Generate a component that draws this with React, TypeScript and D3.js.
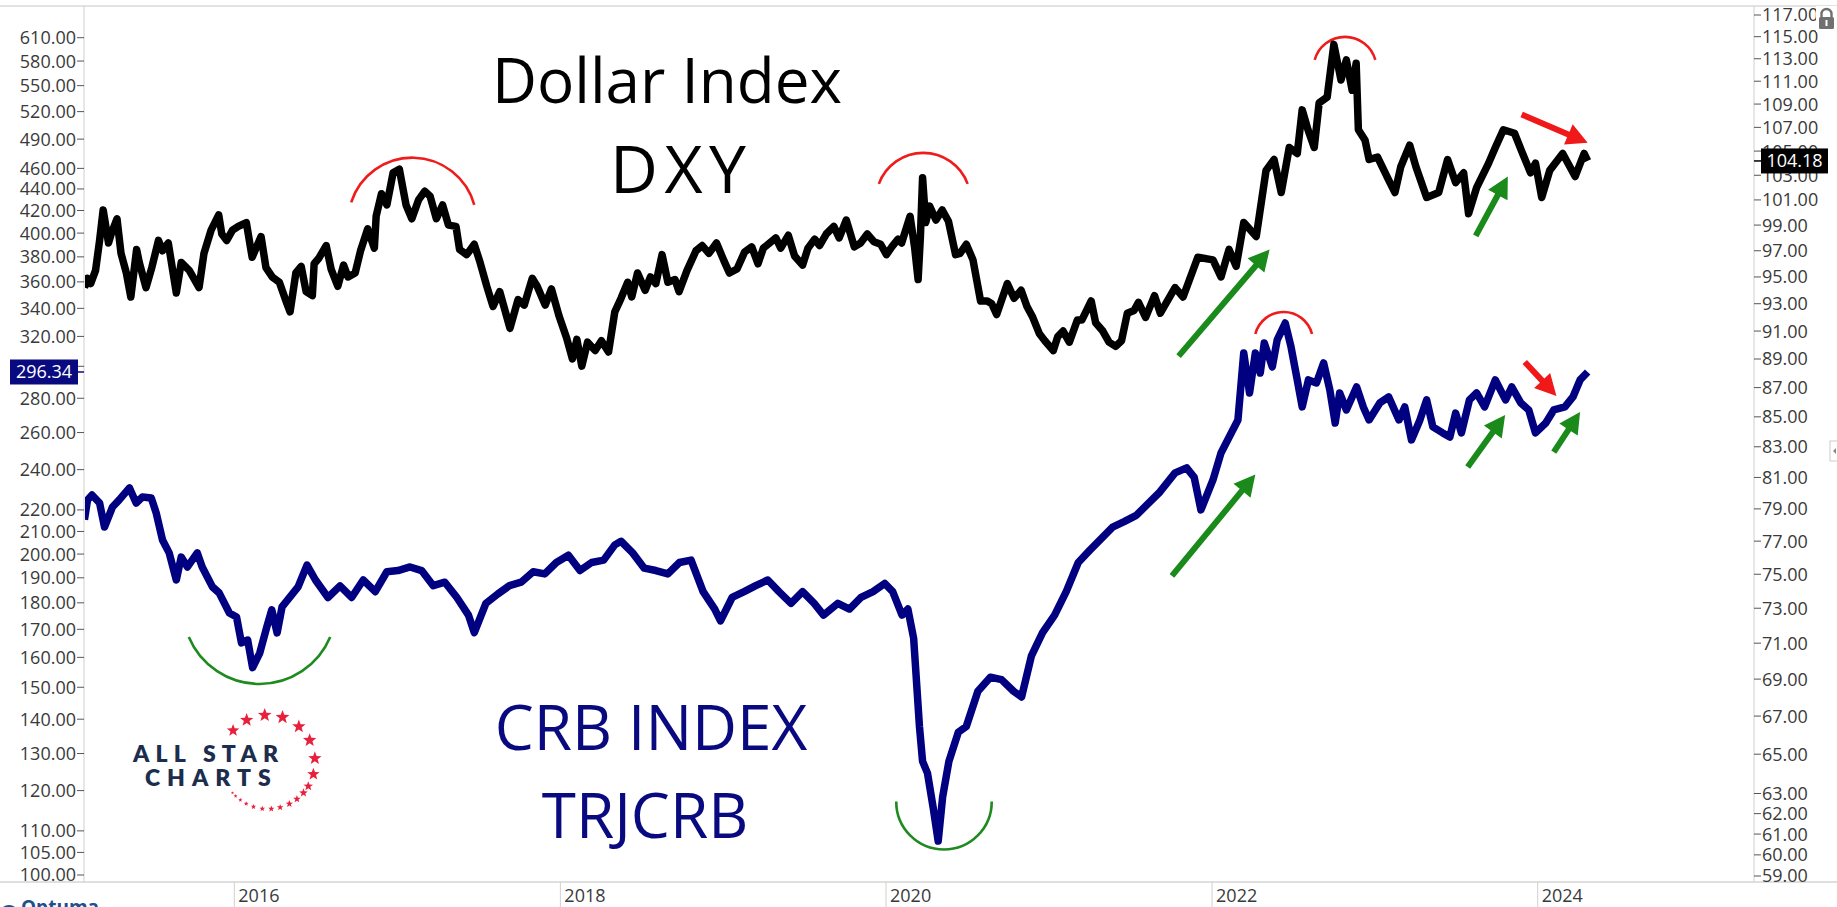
import React from 'react';
import * as d3 from 'd3';

// ---------------- DATA ----------------
// US Dollar Index (right axis)
const dxySeries: [string, number][] = [
  ['2015-01-30', 94.2], ['2015-02-06', 94.9], ['2015-02-13', 94.5], ['2015-02-24', 95.5],
  ['2015-03-05', 97.8], ['2015-03-13', 100.2], ['2015-03-25', 97.6], ['2015-04-01', 98.4],
  ['2015-04-13', 99.5], ['2015-04-22', 96.8], ['2015-05-04', 95.3], ['2015-05-14', 93.5],
  ['2015-05-27', 97.1], ['2015-06-02', 96.1], ['2015-06-17', 94.2], ['2015-06-30', 95.7],
  ['2015-07-15', 97.8], ['2015-07-24', 97.0], ['2015-08-06', 97.6], ['2015-08-24', 93.8],
  ['2015-09-04', 96.1], ['2015-09-22', 95.5], ['2015-10-14', 94.2], ['2015-10-25', 96.8],
  ['2015-11-10', 98.6], ['2015-11-27', 99.8], ['2015-12-04', 98.3], ['2015-12-15', 97.8],
  ['2015-12-28', 98.6], ['2016-01-10', 98.9], ['2016-01-28', 99.2], ['2016-02-10', 96.5],
  ['2016-03-01', 98.1], ['2016-03-12', 95.7], ['2016-03-26', 95.0], ['2016-04-11', 94.6],
  ['2016-04-28', 93.0], ['2016-05-05', 92.4], ['2016-05-18', 95.3], ['2016-05-30', 95.8],
  ['2016-06-10', 93.9], ['2016-06-24', 93.6], ['2016-06-28', 96.0], ['2016-07-08', 96.4],
  ['2016-07-25', 97.4], ['2016-08-05', 95.6], ['2016-08-20', 94.3], ['2016-09-02', 95.9],
  ['2016-09-12', 95.0], ['2016-09-28', 95.3], ['2016-10-10', 97.0], ['2016-10-26', 98.7],
  ['2016-11-10', 97.2], ['2016-11-14', 99.7], ['2016-11-26', 101.5], ['2016-12-08', 100.6],
  ['2016-12-22', 103.2], ['2017-01-05', 103.5], ['2017-01-20', 100.6], ['2017-02-02', 99.5],
  ['2017-02-17', 101.0], ['2017-03-03', 101.7], ['2017-03-15', 101.3], ['2017-03-29', 99.5],
  ['2017-04-12', 100.6], ['2017-04-25', 99.0], ['2017-05-12', 98.9], ['2017-05-20', 97.1],
  ['2017-06-05', 96.7], ['2017-06-22', 97.5], ['2017-07-05', 96.1], ['2017-07-20', 94.3],
  ['2017-08-03', 92.8], ['2017-08-18', 93.9], ['2017-09-10', 91.2], ['2017-09-28', 93.3],
  ['2017-10-12', 92.9], ['2017-10-30', 94.9], ['2017-11-10', 94.3], ['2017-11-28', 92.9],
  ['2017-12-12', 94.1], ['2017-12-29', 92.1], ['2018-01-15', 90.5], ['2018-01-28', 89.0],
  ['2018-02-07', 90.4], ['2018-02-18', 88.5], ['2018-03-03', 90.2], ['2018-03-20', 89.6],
  ['2018-04-03', 90.3], ['2018-04-19', 89.5], ['2018-05-03', 92.4], ['2018-05-17', 93.4],
  ['2018-06-01', 94.6], ['2018-06-10', 93.5], ['2018-06-23', 95.3], ['2018-07-10', 94.0],
  ['2018-07-22', 95.0], ['2018-08-03', 94.5], ['2018-08-17', 96.7], ['2018-08-30', 94.6],
  ['2018-09-15', 94.8], ['2018-09-24', 93.9], ['2018-10-12', 95.5], ['2018-11-01', 97.0],
  ['2018-11-15', 97.4], ['2018-11-30', 96.8], ['2018-12-17', 97.6], ['2019-01-03', 96.2],
  ['2019-01-15', 95.3], ['2019-02-01', 95.6], ['2019-02-18', 96.9], ['2019-03-06', 97.3],
  ['2019-03-20', 96.0], ['2019-04-01', 97.2], ['2019-04-29', 98.0], ['2019-05-10', 97.2],
  ['2019-05-27', 98.2], ['2019-06-10', 96.6], ['2019-06-28', 95.9], ['2019-07-10', 97.2],
  ['2019-07-25', 97.9], ['2019-08-05', 97.4], ['2019-08-20', 98.3], ['2019-09-06', 98.9],
  ['2019-09-18', 98.0], ['2019-10-04', 99.4], ['2019-10-22', 97.3], ['2019-11-05', 97.6],
  ['2019-11-20', 98.3], ['2019-12-05', 97.7], ['2019-12-20', 97.5], ['2020-01-02', 96.7],
  ['2020-01-14', 97.3], ['2020-01-28', 97.9], ['2020-02-05', 97.6], ['2020-02-24', 99.7],
  ['2020-03-05', 97.3], ['2020-03-13', 94.8], ['2020-03-18', 98.0], ['2020-03-23', 102.8],
  ['2020-03-30', 99.2], ['2020-04-08', 100.5], ['2020-04-22', 99.4], ['2020-05-06', 100.2],
  ['2020-05-20', 99.3], ['2020-06-05', 96.7], ['2020-06-15', 96.8], ['2020-06-29', 97.5],
  ['2020-07-14', 96.3], ['2020-07-31', 93.2], ['2020-08-15', 93.2], ['2020-08-25', 93.0],
  ['2020-09-05', 92.2], ['2020-09-29', 94.5], ['2020-10-14', 93.4], ['2020-10-30', 94.0],
  ['2020-11-12', 92.8], ['2020-11-25', 92.0], ['2020-12-10', 90.8], ['2020-12-22', 90.3],
  ['2021-01-10', 89.6], ['2021-01-20', 90.6], ['2021-02-01', 91.0], ['2021-02-15', 90.2],
  ['2021-03-05', 91.8], ['2021-03-15', 91.8], ['2021-04-05', 93.2], ['2021-04-15', 91.6],
  ['2021-05-01', 91.0], ['2021-05-15', 90.2], ['2021-05-30', 89.9], ['2021-06-12', 90.3],
  ['2021-06-25', 92.3], ['2021-07-10', 92.5], ['2021-07-20', 93.1], ['2021-08-05', 92.0],
  ['2021-08-25', 93.6], ['2021-09-07', 92.3], ['2021-10-10', 94.2], ['2021-10-28', 93.5],
  ['2021-11-30', 96.5], ['2022-01-03', 96.3], ['2022-01-21', 95.0], ['2022-02-08', 97.1],
  ['2022-02-24', 95.8], ['2022-03-13', 99.2], ['2022-04-10', 98.1], ['2022-05-02', 103.4],
  ['2022-05-20', 104.3], ['2022-06-05', 101.6], ['2022-06-23', 105.3], ['2022-07-11', 104.8],
  ['2022-07-22', 108.5], ['2022-08-04', 106.8], ['2022-08-18', 105.3], ['2022-08-29', 109.1],
  ['2022-09-16', 109.6], ['2022-10-01', 114.3], ['2022-10-17', 111.1], ['2022-10-29', 112.9],
  ['2022-11-11', 110.2], ['2022-11-20', 112.6], ['2022-11-25', 106.8], ['2022-12-10', 105.9],
  ['2022-12-19', 104.3], ['2023-01-07', 104.5], ['2023-02-01', 102.6], ['2023-02-15', 101.6],
  ['2023-02-28', 103.7], ['2023-03-20', 105.5], ['2023-04-03', 103.7], ['2023-04-27', 101.2],
  ['2023-05-24', 101.6], ['2023-06-13', 104.3], ['2023-07-01', 102.4], ['2023-07-19', 103.2],
  ['2023-07-30', 99.9], ['2023-08-17', 102.0], ['2023-09-13', 104.0], ['2023-09-28', 105.3],
  ['2023-10-16', 106.8], ['2023-11-10', 106.5], ['2023-11-28', 104.8], ['2023-12-16', 103.2],
  ['2023-12-27', 104.0], ['2024-01-10', 101.2], ['2024-01-28', 103.4], ['2024-02-26', 104.8],
  ['2024-03-25', 102.9], ['2024-04-14', 104.8], ['2024-04-22', 104.18],
];

// TR/CC CRB Index (left axis)
const crbSeries: [string, number][] = [
  ['2015-01-30', 215.4], ['2015-02-06', 224.8], ['2015-02-16', 227.2], ['2015-03-05', 223.3],
  ['2015-03-16', 212.0], ['2015-04-03', 221.4], ['2015-04-18', 224.8], ['2015-05-11', 230.7],
  ['2015-05-26', 223.3], ['2015-06-09', 226.2], ['2015-06-29', 225.7], ['2015-07-10', 218.5],
  ['2015-07-24', 206.2], ['2015-08-08', 200.5], ['2015-08-24', 189.1], ['2015-09-04', 198.7],
  ['2015-09-18', 194.5], ['2015-10-10', 200.5], ['2015-10-21', 194.5], ['2015-11-13', 186.3],
  ['2015-11-28', 183.9], ['2015-12-21', 176.1], ['2016-01-06', 174.6], ['2016-01-17', 165.1],
  ['2016-01-31', 166.1], ['2016-02-11', 156.5], ['2016-02-27', 161.5], ['2016-03-14', 170.9],
  ['2016-03-25', 177.3], ['2016-04-06', 168.7], ['2016-04-17', 178.4], ['2016-05-05', 182.3],
  ['2016-05-23', 186.3], ['2016-06-12', 195.3], ['2016-07-01', 189.1], ['2016-07-29', 182.1],
  ['2016-08-25', 186.7], ['2016-09-20', 182.1], ['2016-10-16', 189.1], ['2016-11-12', 184.4],
  ['2016-12-08', 192.5], ['2017-01-02', 193.0], ['2017-01-29', 194.5], ['2017-02-24', 193.0],
  ['2017-03-22', 186.8], ['2017-04-17', 188.2], ['2017-05-14', 182.1], ['2017-06-09', 175.3],
  ['2017-06-22', 168.8], ['2017-07-18', 179.8], ['2017-08-14', 183.5], ['2017-09-09', 186.8],
  ['2017-10-05', 188.2], ['2017-11-01', 192.5], ['2017-11-27', 191.6], ['2017-12-23', 196.4],
  ['2018-01-19', 199.5], ['2018-02-14', 193.0], ['2018-03-12', 196.4], ['2018-04-08', 197.4],
  ['2018-05-03', 204.0], ['2018-05-17', 205.6], ['2018-06-12', 200.5], ['2018-07-08', 194.0],
  ['2018-08-03', 193.0], ['2018-08-30', 191.6], ['2018-09-25', 196.4], ['2018-10-21', 197.4],
  ['2018-11-17', 184.4], ['2018-12-13', 177.6], ['2018-12-26', 173.1], ['2019-01-21', 182.1],
  ['2019-02-17', 184.4], ['2019-03-15', 186.8], ['2019-04-11', 189.1], ['2019-05-06', 184.4],
  ['2019-06-02', 179.8], ['2019-06-28', 184.4], ['2019-07-24', 179.8], ['2019-08-14', 175.3],
  ['2019-09-15', 179.8], ['2019-10-11', 177.6], ['2019-11-06', 182.1], ['2019-12-03', 184.4],
  ['2019-12-29', 187.7], ['2020-01-16', 184.4], ['2020-02-06', 175.3], ['2020-02-19', 177.6],
  ['2020-03-03', 166.7], ['2020-03-16', 137.8], ['2020-03-23', 127.8], ['2020-04-03', 124.6],
  ['2020-04-16', 115.5], ['2020-04-27', 107.6], ['2020-05-07', 118.4], ['2020-05-21', 127.8],
  ['2020-06-11', 136.1], ['2020-06-29', 137.8], ['2020-07-25', 148.7], ['2020-08-22', 153.3],
  ['2020-09-16', 152.5], ['2020-10-13', 148.7], ['2020-10-31', 146.9], ['2020-11-22', 160.5],
  ['2020-12-17', 168.8], ['2021-01-13', 175.3], ['2021-02-08', 184.4], ['2021-03-07', 196.4],
  ['2021-04-01', 201.5], ['2021-04-27', 206.7], ['2021-05-23', 212.0], ['2021-06-19', 214.6],
  ['2021-07-15', 217.4], ['2021-08-10', 222.9], ['2021-09-06', 228.7], ['2021-10-10', 238.3],
  ['2021-11-05', 240.9], ['2021-11-22', 236.0], ['2021-12-07', 220.0], ['2022-01-03', 234.7],
  ['2022-01-21', 248.8], ['2022-02-13', 259.8], ['2022-02-28', 267.2], ['2022-03-13', 308.8],
  ['2022-03-26', 283.2], ['2022-04-08', 308.8], ['2022-04-19', 295.7], ['2022-04-28', 315.5],
  ['2022-05-16', 299.6], ['2022-05-27', 317.6], ['2022-06-14', 329.4], ['2022-06-27', 312.8],
  ['2022-07-11', 291.3], ['2022-07-22', 274.8], ['2022-08-05', 291.3], ['2022-08-23', 289.4],
  ['2022-09-08', 302.2], ['2022-09-22', 285.1], ['2022-10-04', 265.4], ['2022-10-14', 283.2],
  ['2022-10-29', 273.0], ['2022-11-21', 286.9], ['2022-12-06', 274.8], ['2022-12-19', 267.2],
  ['2023-01-12', 277.2], ['2023-02-01', 280.8], ['2023-02-24', 267.2], ['2023-03-09', 274.8],
  ['2023-03-24', 255.9], ['2023-04-12', 267.2], ['2023-04-27', 279.0], ['2023-05-11', 263.2],
  ['2023-06-02', 259.8], ['2023-06-18', 257.5], ['2023-07-01', 271.2], ['2023-07-14', 259.8],
  ['2023-08-01', 279.0], ['2023-08-17', 283.2], ['2023-09-04', 274.8], ['2023-09-28', 291.3],
  ['2023-10-21', 279.0], ['2023-11-04', 286.9], ['2023-11-24', 277.2], ['2023-12-12', 273.0],
  ['2023-12-27', 259.8], ['2024-01-19', 265.4], ['2024-02-06', 273.0], ['2024-03-02', 274.8],
  ['2024-03-20', 280.8], ['2024-04-05', 291.3], ['2024-04-22', 296.34],
];

const crbTicks = [610, 580, 550, 520, 490, 460, 440, 420, 400, 380, 360, 340, 320, 300, 280, 260, 240,
  220, 210, 200, 190, 180, 170, 160, 150, 140, 130, 120, 110, 105, 100];
const crbHiddenLabels = [300];
const dxyTicks = [117, 115, 113, 111, 109, 107, 105, 103, 101, 99, 97, 95, 93, 91, 89, 87, 85, 83, 81,
  79, 77, 75, 73, 71, 69, 67, 65, 63, 62, 61, 60, 59];
const yearTicks = [2016, 2018, 2020, 2022, 2024];
const lastCrb = 296.34;
const lastDxy = 104.18;

// annotations, in data coordinates
type Pt = [string, number];
const arcs: { axis: 'dxy' | 'crb'; from: Pt; to: Pt; bulge: number; up: boolean; color: string }[] = [
  { axis: 'dxy', from: ['2016-09-19', 100.8], to: ['2017-06-22', 100.6], bulge: 46, up: true, color: '#ee1c1c' },
  { axis: 'dxy', from: ['2019-12-16', 102.3], to: ['2020-07-02', 102.3], bulge: 31, up: true, color: '#ee1c1c' },
  { axis: 'dxy', from: ['2022-08-19', 112.9], to: ['2023-01-02', 112.9], bulge: 23, up: true, color: '#ee1c1c' },
  { axis: 'crb', from: ['2022-04-08', 321.7], to: ['2022-08-13', 321.7], bulge: 22, up: true, color: '#ee1c1c' },
  { axis: 'crb', from: ['2015-09-21', 167.2], to: ['2016-08-03', 167.2], bulge: 47, up: false, color: '#1f8a1f' },
  { axis: 'crb', from: ['2020-01-24', 117.2], to: ['2020-08-25', 117.2], bulge: 48, up: false, color: '#1f8a1f' },
];
const arrows: { axis: 'dxy' | 'crb'; from: Pt; to: Pt; color: string }[] = [
  { axis: 'dxy', from: ['2021-10-18', 89.2], to: ['2022-05-10', 97.1], color: '#1a8a1a' },
  { axis: 'dxy', from: ['2023-08-15', 98.15], to: ['2023-10-26', 102.9], color: '#1a8a1a' },
  { axis: 'crb', from: ['2021-10-03', 190.8], to: ['2022-04-08', 237.5], color: '#1a8a1a' },
  { axis: 'crb', from: ['2023-07-28', 241.4], to: ['2023-10-20', 270.1], color: '#1a8a1a' },
  { axis: 'crb', from: ['2024-02-06', 249.3], to: ['2024-04-05', 271.8], color: '#1a8a1a' },
  { axis: 'dxy', from: ['2023-11-26', 108.1], to: ['2024-04-22', 105.7], color: '#f01818' },
  { axis: 'crb', from: ['2023-12-03', 302.8], to: ['2024-02-12', 281.4], color: '#f01818' },
];
// logo star ring: [angle in degrees, size]
const logoStars: [number, number][] = [
  [-138, 6.5], [-117, 7], [-94, 7.2], [-72, 7.2], [-49, 7], [-27.6, 7], [-4.5, 7], [15, 6.5],
  [31, 5], [41, 4.5], [52, 4], [63, 3.8], [75, 3.5], [86, 3.3], [97, 3], [108, 2.8], [117.6, 2.5],
  [126, 2.2], [133.6, 2], [139, 1.7],
];

// ---------------- CHART ----------------
const W = 1837;
const H = 907;
const plotL = 84;
const plotR = 1754;
const plotT = 6;
const plotB = 882;
const FONT = "'Open Sans', 'DejaVu Sans', sans-serif";

function starPath(cx: number, cy: number, r: number) {
  const pts: string[] = [];
  for (let i = 0; i < 10; i++) {
    const a = -Math.PI / 2 + (i * Math.PI) / 5;
    const rr = i % 2 === 0 ? r : r * 0.42;
    pts.push(`${(cx + rr * Math.cos(a)).toFixed(2)},${(cy + rr * Math.sin(a)).toFixed(2)}`);
  }
  return 'M' + pts.join('L') + 'Z';
}

export default function App() {
  const parse = d3.utcParse('%Y-%m-%d');
  const x = d3
    .scaleUtc()
    .domain([new Date(Date.UTC(2016, 0, 1)), new Date(Date.UTC(2024, 0, 1))])
    .range([234.3, 1537.7]);
  const yDxy = d3.scaleLog().domain([59, 117]).range([876, 15]);
  const yCrb = d3.scaleLog().domain([100, 610]).range([875, 37.7]);
  const yOf = (axis: 'dxy' | 'crb') => (axis === 'dxy' ? yDxy : yCrb);

  const dxyLine = d3
    .line<[string, number]>()
    .x((d) => x(parse(d[0])!))
    .y((d) => yDxy(d[1]));
  const crbLine = d3
    .line<[string, number]>()
    .x((d) => x(parse(d[0])!))
    .y((d) => yCrb(d[1]));

  const arcPaths = arcs.map((a, i) => {
    const y = yOf(a.axis);
    const x1 = x(parse(a.from[0])!);
    const y1 = y(a.from[1]);
    const x2 = x(parse(a.to[0])!);
    const y2 = y(a.to[1]);
    const c = Math.hypot(x2 - x1, y2 - y1);
    const s = a.bulge;
    const r = (c * c) / 4 / (2 * s) + s / 2;
    const large = s > r ? 1 : 0;
    const sweep = a.up ? 1 : 0;
    return (
      <path
        key={'arc' + i}
        d={`M${x1},${y1} A${r},${r} 0 ${large} ${sweep} ${x2},${y2}`}
        fill="none"
        stroke={a.color}
        strokeWidth={2.6}
      />
    );
  });

  const arrowPaths = arrows.map((a, i) => {
    const y = yOf(a.axis);
    const x1 = x(parse(a.from[0])!);
    const y1 = y(a.from[1]);
    const x2 = x(parse(a.to[0])!);
    const y2 = y(a.to[1]);
    const len = Math.hypot(x2 - x1, y2 - y1);
    const ux = (x2 - x1) / len;
    const uy = (y2 - y1) / len;
    const nx = -uy;
    const ny = ux;
    const hl = 21; // head length
    const hw = 11; // head half width
    const sw = 3; // shaft half width
    const bx = x2 - ux * hl;
    const by = y2 - uy * hl;
    const p = [
      [x1 + nx * sw, y1 + ny * sw],
      [bx + nx * sw, by + ny * sw],
      [bx + nx * hw, by + ny * hw],
      [x2, y2],
      [bx - nx * hw, by - ny * hw],
      [bx - nx * sw, by - ny * sw],
      [x1 - nx * sw, y1 - ny * sw],
    ];
    return <polygon key={'arr' + i} points={p.map((q) => q.join(',')).join(' ')} fill={a.color} />;
  });

  const logoCx = 268;
  const logoCy = 762;
  const logoR = 47;

  return (
    <div style={{ position: 'fixed', left: 0, top: 0, width: W, height: H, background: '#fff' }}>
      <svg width={W} height={H} style={{ display: 'block' }} fontFamily={FONT}>
        <rect x={0} y={0} width={W} height={H} fill="#fff" />
        {/* frame lines */}
        <line x1={0} x2={W} y1={plotT} y2={plotT} stroke="#d9d9d9" strokeWidth={1.5} />
        <line x1={0} x2={W} y1={plotB} y2={plotB} stroke="#d4d4d4" strokeWidth={1.5} />
        <line x1={plotL} x2={plotL} y1={plotT} y2={plotB} stroke="#cfcfcf" strokeWidth={1} />
        <line x1={plotR} x2={plotR} y1={plotT} y2={plotB} stroke="#cfcfcf" strokeWidth={1} />

        {/* left axis (CRB) */}
        {crbTicks.map((t) => (
          <g key={'l' + t}>
            <line x1={plotL - 7} x2={plotL} y1={yCrb(t)} y2={yCrb(t)} stroke="#555" strokeWidth={1} />
            {crbHiddenLabels.includes(t) ? null : (
              <text x={plotL - 8} y={yCrb(t)} dy="0.36em" textAnchor="end" fontSize={18} fill="#3a3a3a">
                {t.toFixed(2)}
              </text>
            )}
          </g>
        ))}
        {/* right axis (DXY) */}
        {dxyTicks.map((t) => (
          <g key={'r' + t}>
            <line x1={plotR} x2={plotR + 7} y1={yDxy(t)} y2={yDxy(t)} stroke="#555" strokeWidth={1} />
            <text x={plotR + 8} y={yDxy(t)} dy="0.36em" textAnchor="start" fontSize={18} fill="#3a3a3a">
              {t.toFixed(2)}
            </text>
          </g>
        ))}
        {/* x axis */}
        {yearTicks.map((yr) => {
          const xx = x(new Date(Date.UTC(yr, 0, 1)));
          return (
            <g key={'x' + yr}>
              <line x1={xx} x2={xx} y1={plotB} y2={H} stroke="#d0d0d0" strokeWidth={1} />
              <text x={xx + 4} y={902} fontSize={18} fill="#3a3a3a">
                {yr}
              </text>
            </g>
          );
        })}

        <clipPath id="plotClip">
          <rect x={plotL + 1} y={plotT + 1} width={plotR - plotL - 2} height={plotB - plotT - 2} />
        </clipPath>

        {/* annotation text */}
        <text x={667} y={103} textAnchor="middle" fontSize={62} fill="#000">
          Dollar Index
        </text>
        <text x={610} y={193} textAnchor="start" fontSize={66} fill="#000" textLength={136} lengthAdjust="spacing">
          DXY
        </text>
        <text x={651} y={750} textAnchor="middle" fontSize={62} fill="#0a0a80">
          CRB INDEX
        </text>
        <text x={645} y={838} textAnchor="middle" fontSize={62} fill="#0a0a80">
          TRJCRB
        </text>

        {/* logo */}
        <g>
          {logoStars.map(([ang, sz], i) => {
            const a = (ang * Math.PI) / 180;
            return (
              <path
                key={'st' + i}
                d={starPath(logoCx + logoR * Math.cos(a), logoCy + logoR * Math.sin(a), sz)}
                fill="#e8203c"
              />
            );
          })}
          <text x={133} y={762} fontSize={23} fontWeight={800} fill="#1c2d4d" letterSpacing={6.2} fontFamily="Lato, 'Open Sans', sans-serif">
            ALL STAR
          </text>
          <text x={145} y={786} fontSize={23} fontWeight={800} fill="#1c2d4d" letterSpacing={7} fontFamily="Lato, 'Open Sans', sans-serif">
            CHARTS
          </text>
        </g>

        <g clipPath="url(#plotClip)">
          {arcPaths}
          <path
            d={crbLine(crbSeries) || ''}
            fill="none"
            stroke="#000080"
            strokeWidth={7.5}
            strokeLinejoin="round"
          />
          <path
            d={dxyLine(dxySeries) || ''}
            fill="none"
            stroke="#000"
            strokeWidth={7.5}
            strokeLinejoin="round"
          />
          {arrowPaths}
        </g>

        {/* last value labels */}
        <g>
          <rect x={10} y={yCrb(lastCrb) - 12.5} width={68} height={25} fill="#0a0a80" />
          <text x={44} y={yCrb(lastCrb)} dy="0.36em" textAnchor="middle" fontSize={18} fill="#fff">
            {lastCrb.toFixed(2)}
          </text>
          <line x1={plotL - 6} x2={plotL} y1={yCrb(lastCrb)} y2={yCrb(lastCrb)} stroke="#0a0a80" strokeWidth={1.5} />
        </g>
        <g>
          <line x1={plotR} x2={plotR + 7} y1={yDxy(lastDxy)} y2={yDxy(lastDxy)} stroke="#000" strokeWidth={1.5} />
          <rect x={1761} y={yDxy(lastDxy) - 12.5} width={67} height={25} fill="#000" />
          <text x={1794.5} y={yDxy(lastDxy)} dy="0.36em" textAnchor="middle" fontSize={18} fill="#fff">
            {lastDxy.toFixed(2)}
          </text>
        </g>

        {/* lock icon */}
        <g>
          <rect x={1816} y={6} width={21} height={26} fill="#fff" />
          <path d="M1821.5,18 v-4 a5,5 0 0 1 10,0 v4" fill="none" stroke="#707070" strokeWidth={2.4} />
          <rect x={1819} y={17} width={15} height={12} rx={1.5} fill="#707070" />
          <rect x={1825.5} y={20} width={2} height={6} fill="#fff" />
        </g>
        {/* side tab */}
        <g>
          <rect x={1830} y={441} width={10} height={20} fill="#fff" stroke="#ccc" />
          <path d="M1836,448 l-3,3 l3,3 z" fill="#888" />
        </g>

        {/* Optuma logo (cut at bottom) */}
        <g>
          <circle cx={9} cy={915} r={10} fill="#1d4f91" />
          <text x={21} y={914} fontSize={19} fontWeight={700} fill="#1d4f91">
            Optuma
          </text>
        </g>
      </svg>
    </div>
  );
}
